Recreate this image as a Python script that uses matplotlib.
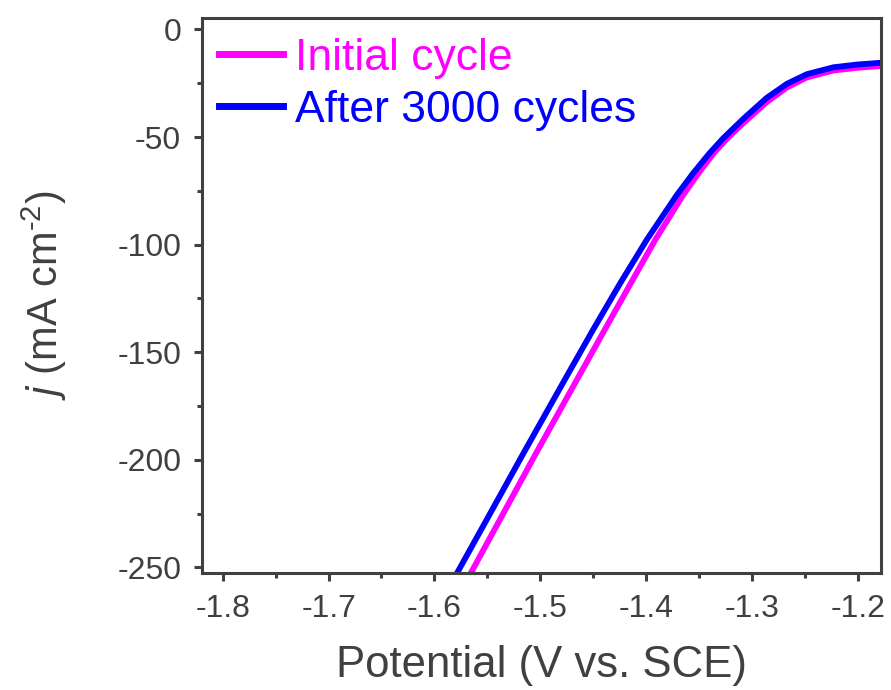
import matplotlib
matplotlib.use('Agg')
import matplotlib.pyplot as plt
import matplotlib.ticker as ticker

# 数据
pot_initial = [-1.566, -1.535, -1.504, -1.465, -1.439, -1.4145, -1.391, -1.365,
               -1.350, -1.336, -1.323, -1.308, -1.286, -1.267, -1.248, -1.223, -1.200, -1.178]
j_initial = [-253, -225, -197, -162.5, -139.5, -118, -97.5, -77,
             -66.5, -57.5, -50.5, -43.5, -33.8, -27, -22.3, -19.1, -17.8, -17]

pot_after = [-1.579, -1.5474, -1.5159, -1.4765, -1.450, -1.4245, -1.399, -1.371,
             -1.355, -1.340, -1.327, -1.308, -1.286, -1.267, -1.248, -1.223, -1.200, -1.178]
j_after = [-253, -225, -197, -162.5, -139.5, -118, -97.5, -77,
           -66.5, -57.5, -50.5, -41.5, -31.8, -25.3, -20.8, -17.6, -16.3, -15.5]

labels = ['Initial cycle', 'After 3000 cycles']
colors = ['#FF00FF', '#0000FF']

plt.rcParams['font.family'] = ['Liberation Sans', 'DejaVu Sans']
plt.rcParams['mathtext.fontset'] = 'custom'
plt.rcParams['mathtext.rm'] = 'Liberation Sans'
plt.rcParams['mathtext.it'] = 'Liberation Sans:italic'
plt.rcParams['axes.unicode_minus'] = False

gray = '#404040'

fig = plt.figure(figsize=(8.91, 6.90), dpi=100)
ax = fig.add_axes([0.2267, 0.1696, 0.9888 - 0.2267, 0.9739 - 0.1696])

ax.plot(pot_initial, j_initial, color=colors[0], linewidth=4.2, label=labels[0],
        solid_joinstyle='round')
ax.plot(pot_after, j_after, color=colors[1], linewidth=4.2, label=labels[1],
        solid_joinstyle='round')

ax.set_xlim(-1.8196, -1.178)
ax.set_ylim(-252.6, 5.3)

ax.xaxis.set_major_locator(ticker.MultipleLocator(0.1))
ax.xaxis.set_minor_locator(ticker.MultipleLocator(0.05))
ax.yaxis.set_major_locator(ticker.MultipleLocator(50))
ax.yaxis.set_minor_locator(ticker.MultipleLocator(25))
ax.xaxis.set_major_formatter(ticker.FuncFormatter(lambda v, p: f'{v:.1f}'))
ax.yaxis.set_major_formatter(ticker.FuncFormatter(lambda v, p: f'{v:.0f}'))

for s in ax.spines.values():
    s.set_color(gray)
    s.set_linewidth(2.2)

ax.tick_params(which='major', direction='out', length=6, width=2.2, color=gray,
               labelsize=23, labelcolor=gray)
ax.tick_params(which='minor', direction='out', length=3.5, width=2.2, color=gray)
ax.tick_params(axis='x', which='major', pad=9)
ax.tick_params(axis='y', which='major', pad=9)

ax.set_xlabel('Potential (V vs. SCE)', fontsize=31.5, color=gray, labelpad=15)
ax.set_ylabel(r'$j$ (mA cm$^{\text{-2}}$)', fontsize=30, color=gray, labelpad=35)

leg = ax.legend(loc='upper left', bbox_to_anchor=(-0.005, 1.0), frameon=False,
                fontsize=32, handlelength=1.45, handletextpad=0.28,
                labelspacing=0.24, borderaxespad=0.0, borderpad=0.45)
for line in leg.get_lines():
    line.set_linewidth(5)
for txt, c in zip(leg.get_texts(), colors):
    txt.set_color(c)

fig.savefig('out.png', dpi=100)
